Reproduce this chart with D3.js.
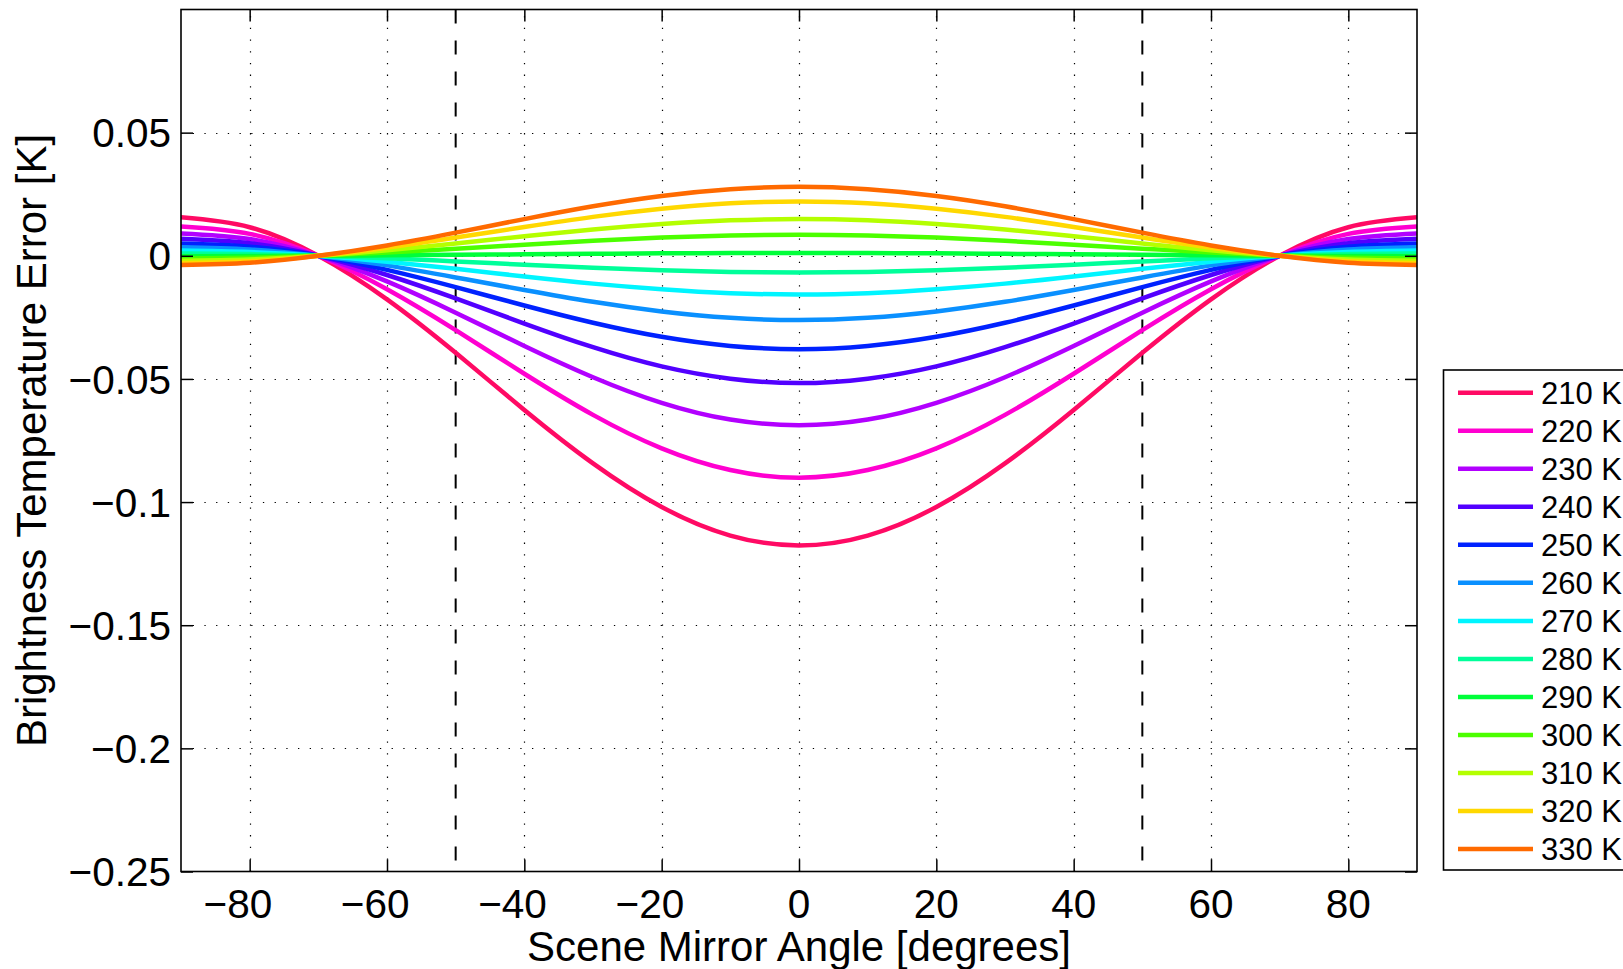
<!DOCTYPE html>
<html>
<head>
<meta charset="utf-8">
<script src="https://cdn.jsdelivr.net/npm/d3@7"></script>
<style>
  html, body { margin: 0; padding: 0; background: #fff; overflow: hidden; }
  svg { display: block; font-family: "Liberation Sans", Arial, Helvetica, sans-serif; }
</style>
</head>
<body>
<svg id="chart" width="1623" height="969"></svg>
<script>
// ---- data ----
const angles = [-90,-80,-70,-60,-50,-40,-30,-20,-10,0,10,20,30,40,50,60,70,80,90];
const seriesNames = ["210 K","220 K","230 K","240 K","250 K","260 K","270 K","280 K","290 K","300 K","310 K","320 K","330 K"];
const seriesColors = ["#ff0a64","#ff00d0","#b200ff","#5200ff","#0022ff","#0a90ff","#00f5ff","#00ff9a","#00ff3a","#4cff00","#b4ff00","#ffd800","#ff6a00"];
const s210 = [0.0156,0.0116,0,-0.0177,-0.0394,-0.0626,-0.0843,-0.1020,-0.1136,-0.1176,-0.1136,-0.1020,-0.0843,-0.0626,-0.0394,-0.0177,0,0.0116,0.0156];
const s220 = [0.0119,0.0089,0,-0.0136,-0.0302,-0.0479,-0.0646,-0.0782,-0.0870,-0.0901,-0.0870,-0.0782,-0.0646,-0.0479,-0.0302,-0.0136,0,0.0089,0.0119];
const s230 = [0.0091,0.0068,0,-0.0104,-0.0231,-0.0366,-0.0493,-0.0597,-0.0665,-0.0688,-0.0665,-0.0597,-0.0493,-0.0366,-0.0231,-0.0104,0,0.0068,0.0091];
const s240 = [0.0069,0.0051,0,-0.0078,-0.0173,-0.0275,-0.0371,-0.0449,-0.0499,-0.0517,-0.0499,-0.0449,-0.0371,-0.0275,-0.0173,-0.0078,0,0.0051,0.0069];
const s250 = [0.0050,0.0037,0,-0.0057,-0.0127,-0.0202,-0.0272,-0.0329,-0.0366,-0.0379,-0.0366,-0.0329,-0.0272,-0.0202,-0.0127,-0.0057,0,0.0037,0.0050];
const s260 = [0.0035,0.0026,0,-0.0039,-0.0088,-0.0139,-0.0187,-0.0226,-0.0252,-0.0261,-0.0252,-0.0226,-0.0187,-0.0139,-0.0088,-0.0039,0,0.0026,0.0035];
const s270 = [0.0021,0.0015,0,-0.0024,-0.0053,-0.0084,-0.0113,-0.0136,-0.0152,-0.0157,-0.0152,-0.0136,-0.0113,-0.0084,-0.0053,-0.0024,0,0.0015,0.0021];
const s280 = [0.0009,0.0007,0,-0.0010,-0.0023,-0.0036,-0.0049,-0.0059,-0.0066,-0.0068,-0.0066,-0.0059,-0.0049,-0.0036,-0.0023,-0.0010,0,0.0007,0.0009];
const s290 = [-0.0002,-0.0001,0,0.0002,0.0004,0.0006,0.0008,0.0010,0.0011,0.0011,0.0011,0.0010,0.0008,0.0006,0.0004,0.0002,0,-0.0001,-0.0002];
const s300 = [-0.0011,-0.0008,0,0.0013,0.0029,0.0045,0.0061,0.0074,0.0082,0.0085,0.0082,0.0074,0.0061,0.0045,0.0029,0.0013,0,-0.0008,-0.0011];
const s310 = [-0.0020,-0.0015,0,0.0022,0.0050,0.0079,0.0107,0.0129,0.0144,0.0149,0.0144,0.0129,0.0107,0.0079,0.0050,0.0022,0,-0.0015,-0.0020];
const s320 = [-0.0029,-0.0022,0,0.0033,0.0074,0.0117,0.0158,0.0191,0.0213,0.0220,0.0213,0.0191,0.0158,0.0117,0.0074,0.0033,0,-0.0022,-0.0029];
const s330 = [-0.0037,-0.0028,0,0.0042,0.0094,0.0149,0.0201,0.0243,0.0270,0.0280,0.0270,0.0243,0.0201,0.0149,0.0094,0.0042,0,-0.0028,-0.0037];
const seriesValues = [s210,s220,s230,s240,s250,s260,s270,s280,s290,s300,s310,s320,s330];
const xTicks = [-80,-60,-40,-20,0,20,40,60,80];
const xTickLabels = ["\u221280","\u221260","\u221240","\u221220","0","20","40","60","80"];
const yTicks = [-0.25,-0.2,-0.15,-0.1,-0.05,0,0.05];
const yTickLabels = ["\u22120.25","\u22120.2","\u22120.15","\u22120.1","\u22120.05","0","0.05"];
const markerAngles = [-50,50];
const xDomain = [-90,90];
const yDomain = [-0.25,0.1];

// ---- layout ----
const L = 181, R = 1417, T = 9.5, B = 871.5;
const svg = d3.select("#chart");
const x = d3.scaleLinear().domain(xDomain).range([L, R]);
const y = d3.scaleLinear().domain(yDomain).range([B, T]);

// grid
const grid = svg.append("g").attr("stroke", "#000").attr("stroke-width", 1.2)
  .attr("stroke-dasharray", "1.3,10.4").attr("fill", "none");
grid.selectAll(".gx").data(xTicks).enter().append("line")
  .attr("x1", d => Math.round(x(d)) + 0.5).attr("x2", d => Math.round(x(d)) + 0.5)
  .attr("y1", B).attr("y2", T);
grid.selectAll(".gy").data(yTicks.filter(d => d > yDomain[0])).enter().append("line")
  .attr("y1", d => Math.round(y(d)) + 0.5).attr("y2", d => Math.round(y(d)) + 0.5)
  .attr("x1", L).attr("x2", R);

// dashed markers
svg.append("g").selectAll("line").data(markerAngles).enter().append("line")
  .attr("x1", d => x(d)).attr("x2", d => x(d)).attr("y1", T).attr("y2", B)
  .attr("stroke", "#000").attr("stroke-width", 2).attr("stroke-dasharray", "14,17");

// clip
svg.append("defs").append("clipPath").attr("id", "plotclip")
  .append("rect").attr("x", L).attr("y", T).attr("width", R - L).attr("height", B - T);

// series lines
const line = d3.line().x((d, i) => x(angles[i])).y(d => y(d)).curve(d3.curveNatural);
svg.append("g").attr("clip-path", "url(#plotclip)")
  .selectAll("path").data(seriesValues).enter().append("path")
  .attr("d", d => line(d)).attr("fill", "none")
  .attr("stroke", (d, i) => seriesColors[i]).attr("stroke-width", 4.5)
  .attr("stroke-linejoin", "round");

// axes (MATLAB-like box with inward ticks)
const tickLen = 12;
const axG = svg.append("g").attr("stroke", "#000").attr("stroke-width", 1.6).attr("fill", "none");
axG.append("rect").attr("x", L).attr("y", T).attr("width", R - L).attr("height", B - T);
const xAxisB = d3.axisBottom(x).tickValues(xTicks).tickSize(-tickLen).tickFormat("");
const xAxisT = d3.axisTop(x).tickValues(xTicks).tickSize(-tickLen).tickFormat("");
const yAxisL = d3.axisLeft(y).tickValues(yTicks).tickSize(-tickLen).tickFormat("");
const yAxisR = d3.axisRight(y).tickValues(yTicks).tickSize(-tickLen).tickFormat("");
[[xAxisB, `translate(0,${B})`], [xAxisT, `translate(0,${T})`], [yAxisL, `translate(${L},0)`], [yAxisR, `translate(${R},0)`]]
  .forEach(([ax, tr]) => {
    const g = svg.append("g").attr("transform", tr).call(ax);
    g.select(".domain").remove();
    g.selectAll("line").attr("stroke", "#000").attr("stroke-width", 1.5);
  });

// tick labels (x: digits centred on tick, minus sign hangs to the left)
const tickFont = 40.5;
const probe = svg.append("text").attr("font-size", tickFont).text("\u2212");
const minusW = probe.node().getComputedTextLength();
probe.remove();
svg.append("g").selectAll("text").data(xTicks).enter().append("text")
  .attr("x", (d, i) => x(d) - (xTickLabels[i].startsWith("\u2212") ? minusW / 2 : 0))
  .attr("y", 918).attr("text-anchor", "middle")
  .attr("font-size", tickFont).attr("fill", "#000")
  .text((d, i) => xTickLabels[i]);
svg.append("g").selectAll("text").data(yTicks).enter().append("text")
  .attr("x", 171).attr("y", d => y(d)).attr("dy", "0.36em").attr("text-anchor", "end")
  .attr("font-size", tickFont).attr("fill", "#000")
  .text((d, i) => yTickLabels[i]);

// axis titles
svg.append("text").attr("x", (L + R) / 2).attr("y", 961).attr("text-anchor", "middle")
  .attr("font-size", 42).attr("fill", "#000").text("Scene Mirror Angle [degrees]");
svg.append("text").attr("transform", `translate(46,${(T + B) / 2}) rotate(-90)`)
  .attr("text-anchor", "middle").attr("font-size", 42).attr("fill", "#000")
  .text("Brightness Temperature Error [K]");

// legend
const legX = 1443.5, legY = 370, legW = 240, legH = 500;
const leg = svg.append("g");
leg.append("rect").attr("x", legX).attr("y", legY).attr("width", legW).attr("height", legH)
  .attr("fill", "#fff").attr("stroke", "#000").attr("stroke-width", 1.6);
const legRow = 38.03;
const items = leg.selectAll("g.item").data(seriesNames).enter().append("g")
  .attr("transform", (d, i) => `translate(0,${392.7 + i * legRow})`);
items.append("line").attr("x1", 1458).attr("x2", 1533).attr("y1", 0).attr("y2", 0)
  .attr("stroke", (d, i) => seriesColors[i]).attr("stroke-width", 4.5);
items.append("text").attr("x", 1541).attr("y", 0).attr("dy", "0.36em")
  .attr("font-size", 31).attr("fill", "#000").text(d => d);
</script>
</body>
</html>
